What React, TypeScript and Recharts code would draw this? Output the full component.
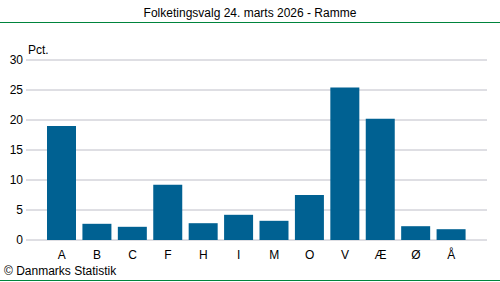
import React from 'react';
import { BarChart, Bar, XAxis, YAxis, CartesianGrid } from 'recharts';

const partier = ['A', 'B', 'C', 'F', 'H', 'I', 'M', 'O', 'V', 'Æ', 'Ø', 'Å'];
const procent = [19.0, 2.7, 2.2, 9.2, 2.8, 4.2, 3.2, 7.5, 25.4, 20.2, 2.3, 1.8];
const yTicks = [0, 5, 10, 15, 20, 25, 30];

const data = partier.map((parti, i) => ({ parti, pct: procent[i] }));

const font = '"Liberation Sans", Arial, sans-serif';

export default function App() {
  return (
    <div style={{ position: 'absolute', left: 0, top: 0, width: 500, height: 282, fontFamily: font, background: '#fff' }}>
      <div style={{ position: 'absolute', top: 6, left: 0, width: 500, textAlign: 'center', fontSize: 12, color: '#000' }}>
        Folketingsvalg 24. marts 2026 - Ramme
      </div>
      <div style={{ position: 'absolute', top: 22, left: 0, width: 500, height: 1, background: '#00843d' }} />
      <div style={{ position: 'absolute', top: 43, left: 28, fontSize: 12, color: '#000' }}>Pct.</div>
      <BarChart
        width={500}
        height={282}
        data={data}
        margin={{ top: 60, right: 13, left: 0, bottom: 12 }}
      >
        <CartesianGrid vertical={false} stroke="#bebec8" />
        <XAxis
          dataKey="parti"
          height={30}
          axisLine={false}
          tickLine={false}
          tickSize={0}
          tickMargin={10}
          padding={{ left: 18, right: 18 }}
          tick={{ fontSize: 12, fill: '#000', fontFamily: font }}
          interval={0}
        />
        <YAxis
          width={26}
          domain={[0, 30]}
          ticks={yTicks}
          axisLine={false}
          tickLine={false}
          tickSize={0}
          tickMargin={3}
          tick={{ fontSize: 12, fill: '#000', fontFamily: font }}
        />
        <Bar dataKey="pct" fill="#006192" barSize={29} isAnimationActive={false} />
      </BarChart>
      <div style={{ position: 'absolute', top: 264, left: 4, fontSize: 12, color: '#000' }}>© Danmarks Statistik</div>
      <div style={{ position: 'absolute', top: 280, left: 0, width: 500, height: 1, background: '#00843d' }} />
    </div>
  );
}
